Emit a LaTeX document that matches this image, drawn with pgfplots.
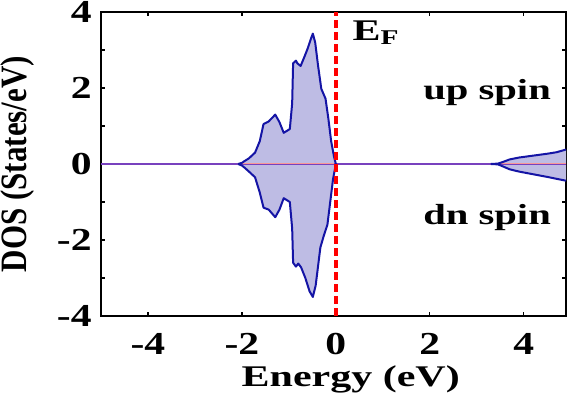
\documentclass[border=0pt]{standalone}
\usepackage{fontspec}
\setmainfont{Liberation Serif}
\newfontfamily\wf[FakeStretch=1.4]{Liberation Serif}
\newfontfamily\tf[FakeStretch=1.3]{Liberation Serif}
\usepackage{graphicx}
\usepackage{pgfplots}
\pgfplotsset{compat=1.18}
\definecolor{fillc}{RGB}{190,188,228}
\definecolor{linec}{RGB}{20,20,165}
\definecolor{zeroc}{RGB}{120,65,190}
\definecolor{pinkc}{RGB}{250,150,150}
\begin{document}
\begin{tikzpicture}
\begin{axis}[
  scale only axis, width=232.5pt, height=152pt,
  xmin=-5, xmax=4.9, ymin=-4, ymax=4,
  xtick={-4,-2,0,2,4}, ytick={-4,-2,0,2,4},
  minor ytick={-3,-1,1,3},
  tick align=inside, major tick length=2pt, minor tick length=2pt,
  every tick/.style={black, line width=0.6pt},
  axis line style={line width=1.2pt},
  /pgf/number format/assume math mode=true,
  ticklabel style={font=\tf\bfseries\fontsize{16}{17}\selectfont},
  xticklabel style={inner ysep=0pt, yshift=-8.5pt},
  yticklabel style={inner xsep=0pt, xshift=-4.5pt},
  xlabel={Energy (eV)}, ylabel={\scalebox{1}[1.2]{DOS (States/eV)}},
  xlabel style={font=\wf\bfseries\fontsize{15}{16}\selectfont, at={(axis description cs:0.537,-0.233)}, anchor=base},
  ylabel style={font=\bfseries\fontsize{15.5}{17}\selectfont, at={(axis description cs:-0.18,0.5)}, anchor=center},
  clip=true,
]
% fills
\addplot[draw=none, fill=fillc] coordinates {
(-2.08,0) (-2.0,0.03) (-1.94,0.08) (-1.85,0.15) (-1.72,0.30) (-1.62,0.60) (-1.54,1.05) (-1.43,1.12) (-1.29,1.30) (-1.2,1.1) (-1.11,0.82) (-0.98,0.92) (-0.93,1.6) (-0.91,2.65) (-0.85,2.72) (-0.82,2.65) (-0.75,2.58) (-0.66,2.85) (-0.60,3.04) (-0.53,3.3) (-0.49,3.43) (-0.44,3.2) (-0.38,2.6) (-0.31,1.98) (-0.22,1.72) (-0.16,1.2) (-0.10,0.60) (-0.04,0.2) (0,0)
(-0.06,-0.4) (-0.12,-1.0) (-0.18,-1.6) (-0.26,-1.9) (-0.33,-2.2) (-0.38,-2.7) (-0.43,-3.2) (-0.49,-3.5) (-0.56,-3.35) (-0.65,-3.0) (-0.74,-2.72) (-0.80,-2.62) (-0.85,-2.7) (-0.91,-2.6) (-0.93,-1.7) (-0.98,-1.0) (-1.11,-0.9) (-1.2,-1.2) (-1.29,-1.40) (-1.43,-1.2) (-1.54,-1.15) (-1.62,-0.75) (-1.72,-0.35) (-1.85,-0.2) (-1.94,-0.1) (-2.0,-0.04) (-2.08,0)
} -- cycle;
\addplot[draw=none, fill=fillc] coordinates {
(3.3,0) (3.45,0.01) (3.55,0.05) (3.7,0.12) (3.9,0.17) (4.2,0.22) (4.5,0.27) (4.7,0.31) (4.9,0.38)
(4.9,-0.44) (4.7,-0.39) (4.5,-0.34) (4.2,-0.27) (3.9,-0.2) (3.7,-0.14) (3.55,-0.06) (3.45,-0.01) (3.3,0)
} -- cycle;
% zero line
\addplot[zeroc, line width=1pt] coordinates {(-5,0) (4.9,0)};
\addplot[pinkc, line width=0.5pt] coordinates {(-2.0,0) (-0.05,0)};
\addplot[pinkc, line width=0.5pt] coordinates {(3.5,0) (4.9,0)};
% curves
\addplot[linec, line width=1pt, line join=round] coordinates {
(-2.08,0) (-2.0,0.03) (-1.94,0.08) (-1.85,0.15) (-1.72,0.30) (-1.62,0.60) (-1.54,1.05) (-1.43,1.12) (-1.29,1.30) (-1.2,1.1) (-1.11,0.82) (-0.98,0.92) (-0.93,1.6) (-0.91,2.65) (-0.85,2.72) (-0.82,2.65) (-0.75,2.58) (-0.66,2.85) (-0.60,3.04) (-0.53,3.3) (-0.49,3.43) (-0.44,3.2) (-0.38,2.6) (-0.31,1.98) (-0.22,1.72) (-0.16,1.2) (-0.10,0.60) (-0.04,0.2) (0,0)};
\addplot[linec, line width=1pt, line join=round] coordinates {
(-2.08,0) (-2.0,-0.04) (-1.94,-0.1) (-1.85,-0.2) (-1.72,-0.35) (-1.62,-0.75) (-1.54,-1.15) (-1.43,-1.2) (-1.29,-1.40) (-1.2,-1.2) (-1.11,-0.9) (-0.98,-1.0) (-0.93,-1.7) (-0.91,-2.6) (-0.85,-2.7) (-0.80,-2.62) (-0.74,-2.72) (-0.65,-3.0) (-0.56,-3.35) (-0.49,-3.5) (-0.43,-3.2) (-0.38,-2.7) (-0.33,-2.2) (-0.26,-1.9) (-0.18,-1.6) (-0.12,-1.0) (-0.06,-0.4) (0,0)};
\addplot[linec, line width=1pt, line join=round] coordinates {
(3.3,0) (3.45,0.01) (3.55,0.05) (3.7,0.12) (3.9,0.17) (4.2,0.22) (4.5,0.27) (4.7,0.31) (4.9,0.38)};
\addplot[linec, line width=1pt, line join=round] coordinates {
(3.3,0) (3.45,-0.01) (3.55,-0.06) (3.7,-0.14) (3.9,-0.2) (4.2,-0.27) (4.5,-0.34) (4.7,-0.39) (4.9,-0.44)};
% Fermi level
\addplot[red, line width=2pt, dash pattern=on 4pt off 2pt] coordinates {(0,-4) (0,4)};
\node[anchor=west, inner sep=0pt, font=\wf\bfseries\fontsize{15}{17}\selectfont] at (axis cs:0.35,3.45) {E\textsubscript{F}};
\node[anchor=base, font=\wf\bfseries\fontsize{14.5}{16}\selectfont] at (axis cs:3.22,1.70) {up spin};
\node[anchor=base, font=\wf\bfseries\fontsize{14.5}{16}\selectfont] at (axis cs:3.22,-1.58) {dn spin};
\end{axis}
\pgfresetboundingbox
\path (current axis.south west) ++(-50.5pt,-40pt) coordinate (bl);
\path (current axis.north east) ++(2pt,6pt) coordinate (tr);
\path[use as bounding box] (bl) rectangle (tr);
\end{tikzpicture}
\end{document}
